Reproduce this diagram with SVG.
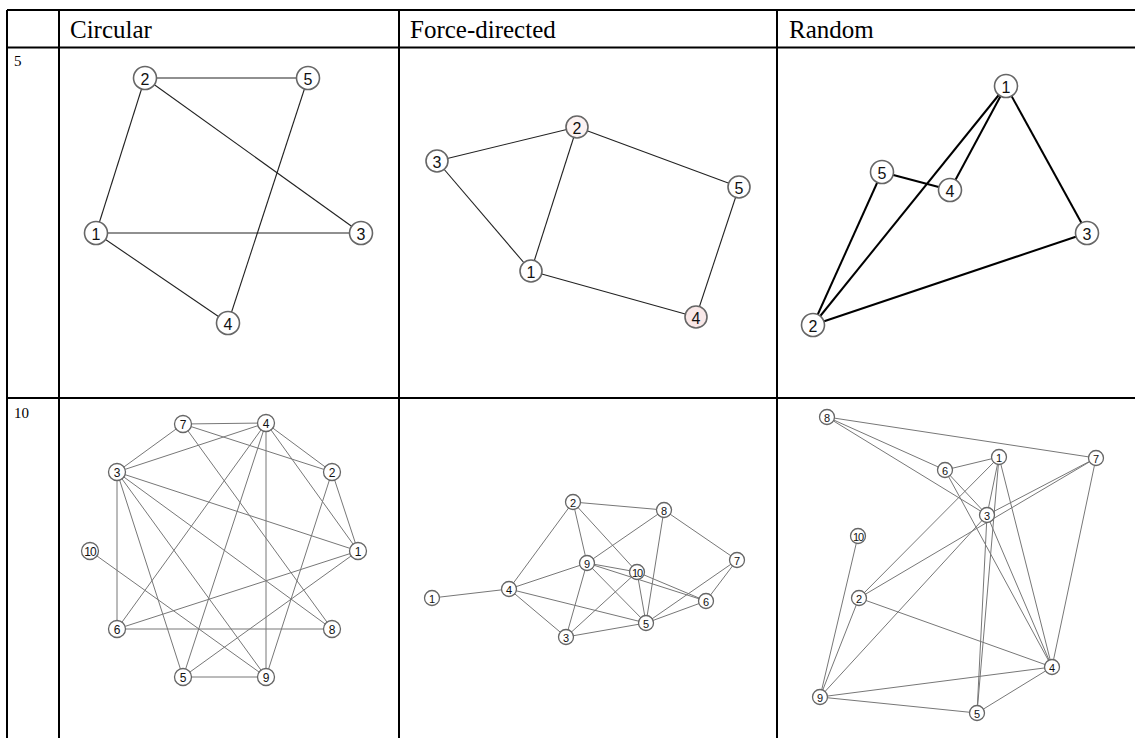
<svg xmlns="http://www.w3.org/2000/svg" width="1135" height="738" viewBox="0 0 1135 738">
<style>
.grid{stroke:#000;stroke-width:2;fill:none}
.hdr{font-family:"Liberation Serif",serif;font-size:25px;fill:#000}
.rl{font-family:"Liberation Serif",serif;font-size:15px;fill:#000}
.n circle{fill:#fff;stroke:#666;stroke-width:1.6}
.n text{font-family:"Liberation Sans",Arial,sans-serif;fill:#111;text-anchor:middle;dominant-baseline:central}
.big text{font-size:16px}
.sm circle{stroke-width:1.3}
.sm text{font-size:12px}
.e1 line{stroke:#222;stroke-width:1.1}
.e2 line{stroke:#000;stroke-width:2}
.e3 line{stroke:#777;stroke-width:1}
</style>
<rect width="1135" height="738" fill="#fff"/>
<g id="table" class="grid">
<line x1="7" y1="10" x2="1135" y2="10"/>
<line x1="7" y1="47.5" x2="1135" y2="47.5"/>
<line x1="7" y1="398" x2="1135" y2="398"/>
<line x1="7" y1="10" x2="7" y2="738"/>
<line x1="59" y1="10" x2="59" y2="738"/>
<line x1="399" y1="10" x2="399" y2="738"/>
<line x1="777" y1="10" x2="777" y2="738"/>
</g>
<g id="labels">
<text class="hdr" x="70" y="38">Circular</text>
<text class="hdr" x="410" y="38">Force-directed</text>
<text class="hdr" x="789" y="38">Random</text>
<text class="rl" x="14" y="66">5</text>
<text class="rl" x="14" y="418">10</text>
</g>
<g id="connectors">
<g class="e1">
<line x1="145" y1="78" x2="308" y2="78"/>
<line x1="145" y1="78" x2="96" y2="233"/>
<line x1="145" y1="78" x2="361" y2="233"/>
<line x1="96" y1="233" x2="361" y2="233"/>
<line x1="96" y1="233" x2="228" y2="323"/>
<line x1="308" y1="78" x2="228" y2="323"/>
<line x1="437" y1="161" x2="577" y2="127"/>
<line x1="577" y1="127" x2="739" y2="187"/>
<line x1="437" y1="161" x2="531" y2="271"/>
<line x1="577" y1="127" x2="531" y2="271"/>
<line x1="531" y1="271" x2="696" y2="317"/>
<line x1="739" y1="187" x2="696" y2="317"/>
</g>
<g class="e2">
<line x1="1006" y1="86" x2="813" y2="325"/>
<line x1="1006" y1="86" x2="950" y2="190"/>
<line x1="1006" y1="86" x2="1087" y2="233"/>
<line x1="882" y1="172" x2="950" y2="190"/>
<line x1="882" y1="172" x2="813" y2="325"/>
<line x1="813" y1="325" x2="1087" y2="233"/>
</g>
<g class="e3">
<line x1="183" y1="424" x2="266" y2="423"/>
<line x1="183" y1="424" x2="117" y2="472"/>
<line x1="183" y1="424" x2="332" y2="472"/>
<line x1="183" y1="424" x2="332" y2="629"/>
<line x1="266" y1="423" x2="117" y2="472"/>
<line x1="266" y1="423" x2="332" y2="472"/>
<line x1="266" y1="423" x2="358" y2="551"/>
<line x1="266" y1="423" x2="266" y2="677" stroke="#555"/>
<line x1="266" y1="423" x2="117" y2="629"/>
<line x1="266" y1="423" x2="183" y2="677"/>
<line x1="117" y1="472" x2="358" y2="551"/>
<line x1="117" y1="472" x2="117" y2="629" stroke="#bbb"/>
<line x1="117" y1="472" x2="183" y2="677"/>
<line x1="117" y1="472" x2="266" y2="677"/>
<line x1="117" y1="472" x2="332" y2="629"/>
<line x1="332" y1="472" x2="358" y2="551"/>
<line x1="332" y1="472" x2="266" y2="677"/>
<line x1="358" y1="551" x2="117" y2="629"/>
<line x1="358" y1="551" x2="183" y2="677"/>
<line x1="90" y1="551" x2="266" y2="677"/>
<line x1="117" y1="629" x2="332" y2="629" stroke="#333"/>
<line x1="183" y1="677" x2="266" y2="677"/>
<line x1="573" y1="502" x2="664" y2="510"/>
<line x1="573" y1="502" x2="509" y2="589"/>
<line x1="573" y1="502" x2="587" y2="563"/>
<line x1="573" y1="502" x2="637" y2="572"/>
<line x1="664" y1="510" x2="587" y2="563"/>
<line x1="664" y1="510" x2="646" y2="623"/>
<line x1="664" y1="510" x2="737" y2="560"/>
<line x1="737" y1="560" x2="646" y2="623"/>
<line x1="737" y1="560" x2="706" y2="601"/>
<line x1="587" y1="563" x2="509" y2="589"/>
<line x1="587" y1="563" x2="637" y2="572"/>
<line x1="587" y1="563" x2="706" y2="601"/>
<line x1="587" y1="563" x2="646" y2="623"/>
<line x1="587" y1="563" x2="566" y2="637"/>
<line x1="637" y1="572" x2="706" y2="601"/>
<line x1="637" y1="572" x2="566" y2="637"/>
<line x1="637" y1="572" x2="646" y2="623"/>
<line x1="509" y1="589" x2="432" y2="598"/>
<line x1="509" y1="589" x2="646" y2="623"/>
<line x1="509" y1="589" x2="566" y2="637"/>
<line x1="566" y1="637" x2="646" y2="623"/>
<line x1="646" y1="623" x2="706" y2="601"/>
<line x1="827" y1="417" x2="1096" y2="458"/>
<line x1="827" y1="417" x2="945" y2="470"/>
<line x1="827" y1="417" x2="987" y2="515"/>
<line x1="945" y1="470" x2="999" y2="457"/>
<line x1="945" y1="470" x2="987" y2="515"/>
<line x1="945" y1="470" x2="1052" y2="667"/>
<line x1="999" y1="457" x2="859" y2="598"/>
<line x1="999" y1="457" x2="987" y2="515"/>
<line x1="999" y1="457" x2="977" y2="713"/>
<line x1="999" y1="457" x2="1052" y2="667"/>
<line x1="1096" y1="458" x2="987" y2="515"/>
<line x1="1096" y1="458" x2="859" y2="598"/>
<line x1="1096" y1="458" x2="1052" y2="667"/>
<line x1="987" y1="515" x2="1052" y2="667"/>
<line x1="987" y1="515" x2="820" y2="697"/>
<line x1="987" y1="515" x2="977" y2="713"/>
<line x1="858" y1="536" x2="820" y2="697"/>
<line x1="859" y1="598" x2="820" y2="697"/>
<line x1="859" y1="598" x2="1052" y2="667"/>
<line x1="820" y1="697" x2="1052" y2="667"/>
<line x1="820" y1="697" x2="977" y2="713"/>
<line x1="977" y1="713" x2="1052" y2="667"/>
</g>
</g>
<g id="circ5" class="n big">
<g id="c5n1"><circle cx="96" cy="233" r="11.5"/><text x="96" y="234">1</text></g>
<g id="c5n2"><circle cx="145" cy="78" r="11.5"/><text x="145" y="79">2</text></g>
<g id="c5n3"><circle cx="361" cy="233" r="11.5"/><text x="361" y="234">3</text></g>
<g id="c5n4"><circle cx="228" cy="323" r="11.5"/><text x="228" y="324">4</text></g>
<g id="c5n5"><circle cx="308" cy="78" r="11.5"/><text x="308" y="79">5</text></g>
</g>
<g id="force5" class="n big">
<g id="f5n1"><circle cx="531" cy="271" r="11"/><text x="531" y="272">1</text></g>
<g id="f5n2"><circle cx="577" cy="127" r="11" style="fill:#fcf3f3"/><text x="577" y="128">2</text></g>
<g id="f5n3"><circle cx="437" cy="161" r="11"/><text x="437" y="162">3</text></g>
<g id="f5n4"><circle cx="696" cy="317" r="11" style="fill:#f9e8e8"/><text x="696" y="318">4</text></g>
<g id="f5n5"><circle cx="739" cy="187" r="11"/><text x="739" y="188">5</text></g>
</g>
<g id="rand5" class="n big">
<g id="r5n1"><circle cx="1006" cy="86" r="11.5"/><text x="1006" y="87">1</text></g>
<g id="r5n2"><circle cx="813" cy="325" r="11.5"/><text x="813" y="326">2</text></g>
<g id="r5n3"><circle cx="1087" cy="233" r="11.5"/><text x="1087" y="234">3</text></g>
<g id="r5n4"><circle cx="950" cy="190" r="11.5"/><text x="950" y="191">4</text></g>
<g id="r5n5"><circle cx="882" cy="172" r="11.5"/><text x="882" y="173">5</text></g>
</g>
<g id="circ10" class="n sm">
<g id="c10n1"><circle cx="358" cy="551" r="8.5"/><text x="358" y="552">1</text></g>
<g id="c10n2"><circle cx="332" cy="472" r="8.5"/><text x="332" y="473">2</text></g>
<g id="c10n3"><circle cx="117" cy="472" r="8.5"/><text x="117" y="473">3</text></g>
<g id="c10n4"><circle cx="266" cy="423" r="8.5"/><text x="266" y="424">4</text></g>
<g id="c10n5"><circle cx="183" cy="677" r="8.5"/><text x="183" y="678">5</text></g>
<g id="c10n6"><circle cx="117" cy="629" r="8.5"/><text x="117" y="630">6</text></g>
<g id="c10n7"><circle cx="183" cy="424" r="8.5"/><text x="183" y="425">7</text></g>
<g id="c10n8"><circle cx="332" cy="629" r="8.5"/><text x="332" y="630">8</text></g>
<g id="c10n9"><circle cx="266" cy="677" r="8.5"/><text x="266" y="678">9</text></g>
<g id="c10n10"><circle cx="90" cy="551" r="8.5"/><text x="90" y="552" style="letter-spacing:-1px">10</text></g>
</g>
<g id="force10" class="n sm">
<g id="f10n1"><circle cx="432" cy="598" r="7.5"/><text x="432" y="599" style="font-size:11px">1</text></g>
<g id="f10n2"><circle cx="573" cy="502" r="7.5"/><text x="573" y="503" style="font-size:11px">2</text></g>
<g id="f10n3"><circle cx="566" cy="637" r="7.5"/><text x="566" y="638" style="font-size:11px">3</text></g>
<g id="f10n4"><circle cx="509" cy="589" r="7.5"/><text x="509" y="590" style="font-size:11px">4</text></g>
<g id="f10n5"><circle cx="646" cy="623" r="7.5"/><text x="646" y="624" style="font-size:11px">5</text></g>
<g id="f10n6"><circle cx="706" cy="601" r="7.5"/><text x="706" y="602" style="font-size:11px">6</text></g>
<g id="f10n7"><circle cx="737" cy="560" r="7.5"/><text x="737" y="561" style="font-size:11px">7</text></g>
<g id="f10n8"><circle cx="664" cy="510" r="7.5"/><text x="664" y="511" style="font-size:11px">8</text></g>
<g id="f10n9"><circle cx="587" cy="563" r="7.5"/><text x="587" y="564" style="font-size:11px">9</text></g>
<g id="f10n10"><circle cx="637" cy="572" r="7.5"/><text x="637" y="573" style="font-size:11px;letter-spacing:-1px">10</text></g>
</g>
<g id="rand10" class="n sm">
<g id="r10n1"><circle cx="999" cy="457" r="7.5"/><text x="999" y="458" style="font-size:11px">1</text></g>
<g id="r10n2"><circle cx="859" cy="598" r="7.5"/><text x="859" y="599" style="font-size:11px">2</text></g>
<g id="r10n3"><circle cx="987" cy="515" r="7.5"/><text x="987" y="516" style="font-size:11px">3</text></g>
<g id="r10n4"><circle cx="1052" cy="667" r="7.5"/><text x="1052" y="668" style="font-size:11px">4</text></g>
<g id="r10n5"><circle cx="977" cy="713" r="7.5"/><text x="977" y="714" style="font-size:11px">5</text></g>
<g id="r10n6"><circle cx="945" cy="470" r="7.5"/><text x="945" y="471" style="font-size:11px">6</text></g>
<g id="r10n7"><circle cx="1096" cy="458" r="7.5"/><text x="1096" y="459" style="font-size:11px">7</text></g>
<g id="r10n8"><circle cx="827" cy="417" r="7.5"/><text x="827" y="418" style="font-size:11px">8</text></g>
<g id="r10n9"><circle cx="820" cy="697" r="7.5"/><text x="820" y="698" style="font-size:11px">9</text></g>
<g id="r10n10"><circle cx="858" cy="536" r="7.5"/><text x="858" y="537" style="font-size:11px;letter-spacing:-1px">10</text></g>
</g>
</svg>
